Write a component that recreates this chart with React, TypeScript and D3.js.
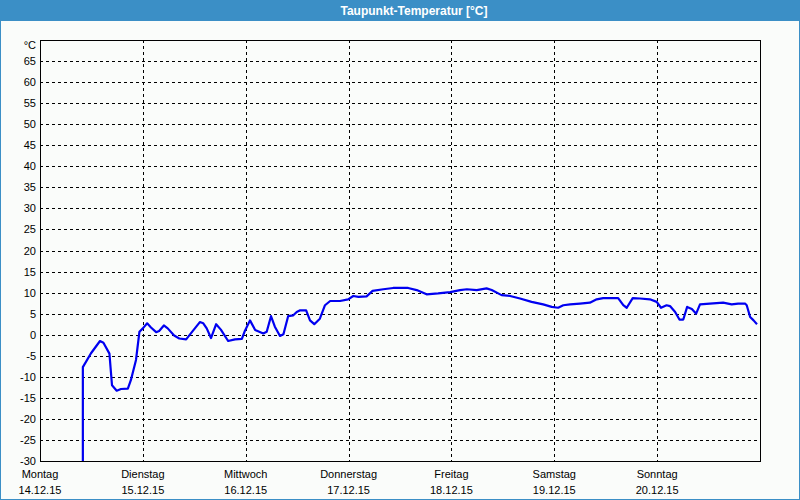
import * as d3 from "d3";
import { useEffect, useRef } from "react";

const title = "Taupunkt-Temperatur [°C]";
const unit = "°C";
const dayNames = ["Montag", "Dienstag", "Mittwoch", "Donnerstag", "Freitag", "Samstag", "Sonntag"];
const dayDates = ["14.12.15", "15.12.15", "16.12.15", "17.12.15", "18.12.15", "19.12.15", "20.12.15"];
const yTicks = [-30, -25, -20, -15, -10, -5, 0, 5, 10, 15, 20, 25, 30, 35, 40, 45, 50, 55, 60, 65];

// hours since Monday 00:00
const hours = [
  10.0, 10.0, 11.9, 14.0, 14.8, 16.2, 16.8, 17.9, 18.9, 20.5, 21.2, 22.4, 23.2, 24.0, 25.0, 25.9,
  27.1, 27.8, 28.9, 29.8, 31.3, 32.5, 34.1, 35.2, 37.3, 38.1, 38.9, 39.9, 41.1, 42.2, 43.9, 45.5,
  47.1, 47.8, 49.0, 50.2, 52.1, 52.9, 53.9, 54.8, 56.0, 56.8, 57.9, 59.1, 59.9, 60.7, 62.1, 63.0,
  64.0, 65.3, 66.5, 67.7, 70.0, 71.9, 73.1, 74.3, 76.2, 77.6, 80.1, 82.4, 85.9, 87.9, 90.2, 92.9,
  95.7, 98.0, 99.6, 101.9, 104.2, 105.4, 107.7, 109.7, 112.0, 114.7, 117.4, 119.4, 120.9, 122.1,
  123.7, 126.0, 128.3, 129.9, 131.4, 134.9, 136.1, 136.9, 138.3, 140.0, 142.3, 143.9, 144.9, 146.2,
  147.0, 148.2, 149.2, 150.1, 151.0, 152.1, 153.1, 154.0, 156.3, 159.4, 161.4, 162.9, 164.5, 164.9,
  165.7, 166.5, 167.3,
];
const dewPoint = [
  -30, -7.7, -4.4, -1.5, -1.9, -4.5, -12.0, -13.3, -12.9, -12.8, -10.8, -6.0, 0.7, 1.5, 2.7, 1.7,
  0.6, 0.9, 2.2, 1.5, -0.2, -0.9, -1.1, 0.3, 3.0, 2.7, 1.5, -0.8, 2.5, 1.2, -1.5, -1.1,
  -1.0, 0.9, 3.4, 1.1, 0.3, 0.7, 4.4, 1.9, -0.3, 0.1, 4.4, 4.6, 5.4, 5.8, 5.8, 3.4,
  2.5, 3.8, 7.0, 8.0, 8.0, 8.4, 9.2, 9.0, 9.1, 10.4, 10.8, 11.1, 11.1, 10.6, 9.6, 9.8,
  10.1, 10.6, 10.8, 10.6, 11.0, 10.6, 9.4, 9.2, 8.6, 7.8, 7.2, 6.6, 6.4, 7.0,
  7.2, 7.4, 7.6, 8.4, 8.7, 8.7, 7.0, 6.4, 8.7, 8.6, 8.4, 7.8, 6.4, 7.0,
  6.8, 5.4, 3.6, 3.6, 6.6, 6.1, 5.0, 7.2, 7.4, 7.6, 7.2, 7.4, 7.4, 7.0,
  4.2, 3.4, 2.5,
];

const W = 800;
const H = 500;
const frame = "#3b8fc6";

export default function App() {
  const ref = useRef<SVGSVGElement>(null);

  useEffect(() => {
    const svg = d3.select(ref.current);
    svg.selectAll("*").remove();

    const margin = { top: 40, right: 40, bottom: 39, left: 40 };
    const x = d3.scaleLinear().domain([0, 168]).range([margin.left, W - margin.right]);
    const y = d3.scaleLinear().domain([-30, 70]).range([H - margin.bottom, margin.top]);

    // background + frame
    svg.append("rect").attr("x", 0).attr("y", 0).attr("width", W).attr("height", H).attr("fill", "#fafcfa");
    svg
      .append("rect")
      .attr("x", 0.5)
      .attr("y", 0.5)
      .attr("width", W - 1)
      .attr("height", H - 1)
      .attr("fill", "none")
      .attr("stroke", frame);
    svg.append("rect").attr("x", 0).attr("y", 0).attr("width", W).attr("height", 21).attr("fill", frame);
    svg
      .append("text")
      .attr("x", 414)
      .attr("y", 15)
      .attr("text-anchor", "middle")
      .attr("fill", "#ffffff")
      .attr("font-family", "Liberation Sans, Arial, sans-serif")
      .attr("font-weight", "bold")
      .attr("font-size", 12)
      .text(title);

    const font = "Liberation Sans, Arial, sans-serif";

    // horizontal grid
    svg
      .append("g")
      .selectAll("line")
      .data(yTicks.filter((d) => d > -30))
      .join("line")
      .attr("x1", x(0))
      .attr("x2", x(168))
      .attr("y1", (d) => Math.round(y(d)) + 0.5)
      .attr("y2", (d) => Math.round(y(d)) + 0.5)
      .attr("stroke", "#000")
      .attr("stroke-dasharray", "3,3");

    // vertical grid
    svg
      .append("g")
      .selectAll("line")
      .data(d3.range(1, 7))
      .join("line")
      .attr("x1", (d) => Math.round(x(d * 24)) + 0.5)
      .attr("x2", (d) => Math.round(x(d * 24)) + 0.5)
      .attr("y1", y(70))
      .attr("y2", y(-30))
      .attr("stroke", "#000")
      .attr("stroke-dasharray", "3,3");

    // plot border
    svg
      .append("rect")
      .attr("x", x(0) + 0.5)
      .attr("y", y(70) + 0.5)
      .attr("width", x(168) - x(0))
      .attr("height", y(-30) - y(70))
      .attr("fill", "none")
      .attr("stroke", "#000");

    // y labels
    svg
      .append("g")
      .selectAll("text")
      .data(yTicks)
      .join("text")
      .attr("x", x(0) - 4)
      .attr("y", (d) => y(d) + 4)
      .attr("text-anchor", "end")
      .attr("font-family", font)
      .attr("font-size", 11)
      .attr("fill", "#000")
      .text((d) => d);
    svg
      .append("text")
      .attr("x", x(0) - 4)
      .attr("y", y(70) + 9)
      .attr("text-anchor", "end")
      .attr("font-family", font)
      .attr("font-size", 11)
      .text(unit);

    // x labels
    const xl = svg.append("g");
    xl.selectAll("text.day")
      .data(dayNames)
      .join("text")
      .attr("class", "day")
      .attr("x", (d, i) => x(i * 24))
      .attr("y", y(-30) + 17)
      .attr("text-anchor", "middle")
      .attr("font-family", font)
      .attr("font-size", 11)
      .text((d) => d);
    xl.selectAll("text.date")
      .data(dayDates)
      .join("text")
      .attr("class", "date")
      .attr("x", (d, i) => x(i * 24))
      .attr("y", y(-30) + 33)
      .attr("text-anchor", "middle")
      .attr("font-family", font)
      .attr("font-size", 11)
      .text((d) => d);

    // line
    const line = d3
      .line<number>()
      .x((d, i) => x(hours[i]))
      .y((d) => y(d));
    svg
      .append("path")
      .datum(dewPoint)
      .attr("d", line)
      .attr("fill", "none")
      .attr("stroke", "#0000f0")
      .attr("stroke-width", 2.2)
      .attr("stroke-linejoin", "round");
  }, []);

  return (
    <svg ref={ref} width={W} height={H} style={{ display: "block", position: "absolute", left: 0, top: 0 }} />
  );
}
